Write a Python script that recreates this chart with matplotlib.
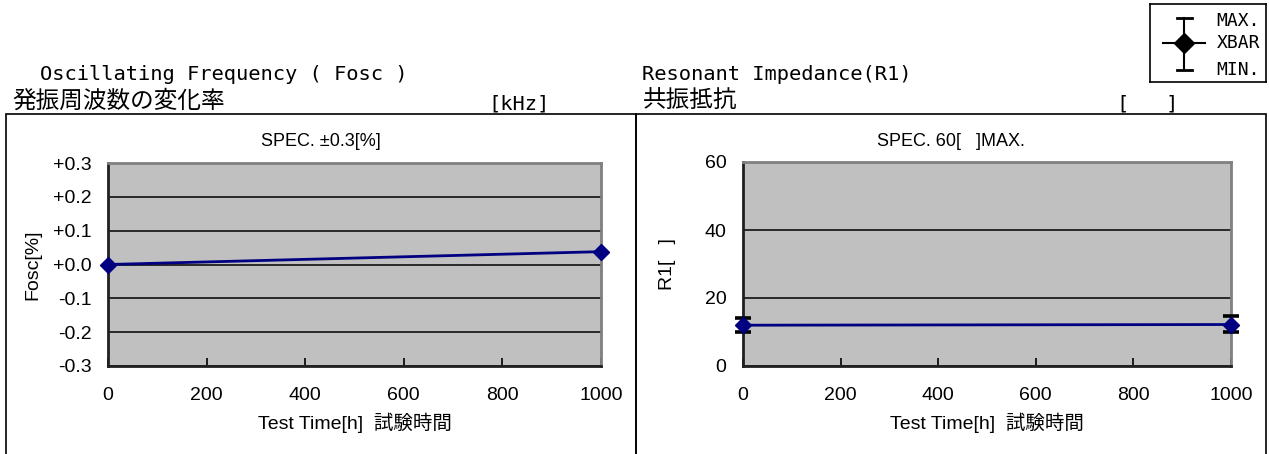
import matplotlib
matplotlib.use("Agg")
import matplotlib.pyplot as plt
from matplotlib.patches import Rectangle
from matplotlib.lines import Line2D

W, H = 1269, 454

# measurement data
hours = [0, 1000]
fosc_avg = [0.0, 0.038]
r1_avg = [12.0, 12.2]
r1_max = [14.2, 14.8]
r1_min = [10.0, 10.1]

# axis ticks
time_ticks = [0, 200, 400, 600, 800, 1000]
fosc_ticks = [-0.3, -0.2, -0.1, 0.0, 0.1, 0.2, 0.3]
fosc_ticklabels = ['-0.3', '-0.2', '-0.1', '+0.0', '+0.1', '+0.2', '+0.3']
r1_ticks = [0, 20, 40, 60]

NAVY = '#000080'
PLOT_BG = '#c0c0c0'
BORDER = '#808080'
SANS = ['Liberation Sans', 'Noto Sans CJK JP']
MONO = ['DejaVu Sans Mono', 'Noto Sans CJK JP']
CJK = ['Noto Sans CJK JP', 'DejaVu Sans']


def fx(x):
    return x / W


def fy(y):
    return 1 - y / H


fig = plt.figure(figsize=(W / 100, H / 100), dpi=100)
fig.patch.set_facecolor('white')

# outer frames of the two panels
for x0, x1 in ((6, 636), (636, 1266)):
    fig.add_artist(Rectangle((fx(x0), fy(470)), fx(x1) - fx(x0), fy(114) - fy(470),
                             transform=fig.transFigure, fill=False,
                             edgecolor='black', linewidth=1.2))


def make_axes(x0, x1, y0, y1):
    ax = fig.add_axes([fx(x0), fy(y1), fx(x1) - fx(x0), fy(y0) - fy(y1)])
    ax.set_facecolor(PLOT_BG)
    for s in ('top', 'right'):
        ax.spines[s].set_color(BORDER)
        ax.spines[s].set_linewidth(2)
    for s in ('left', 'bottom'):
        ax.spines[s].set_color('#202020')
        ax.spines[s].set_linewidth(2)
    ax.tick_params(axis='x', direction='in', length=6, width=1.2, pad=15,
                   labelsize=14)
    ax.tick_params(axis='y', direction='in', length=0, pad=12, labelsize=14)
    ax.grid(axis='y', color='black', linewidth=1.1)
    ax.set_axisbelow(True)
    ax.set_xlim(0, 1000)
    ax.set_xticks(time_ticks)
    return ax


# --- Oscillating frequency panel ---
ax1 = make_axes(108, 601, 163, 366)
ax1.set_ylim(-0.3, 0.3)
ax1.set_yticks(fosc_ticks)
ax1.set_yticklabels(fosc_ticklabels)
ax1.plot(hours, fosc_avg, color=NAVY, linewidth=2, marker='D', markersize=8,
         markerfacecolor=NAVY, markeredgecolor=NAVY, clip_on=False, zorder=5)
ax1.set_xlabel('Test Time[h]  試験時間', family=SANS, fontsize=14, labelpad=6)
ax1.set_ylabel('Fosc[%]', family=SANS, fontsize=14)
ax1.yaxis.set_label_coords(-(108 - 41) / 493, 0.5)
for lab in ax1.get_xticklabels() + ax1.get_yticklabels():
    lab.set_family(SANS)

# --- Resonant impedance panel ---
ax2 = make_axes(743, 1231, 162, 366)
ax2.set_ylim(0, 60)
ax2.set_yticks(r1_ticks)
yerr = [[a - lo for a, lo in zip(r1_avg, r1_min)],
        [hi - a for a, hi in zip(r1_avg, r1_max)]]
ax2.errorbar(hours, r1_avg, yerr=yerr, fmt='none', ecolor='black',
             elinewidth=1.5, capsize=5.5, capthick=2.6, clip_on=False, zorder=4)
ax2.plot(hours, r1_avg, color=NAVY, linewidth=2, marker='D', markersize=8,
         markerfacecolor=NAVY, markeredgecolor=NAVY, clip_on=False, zorder=5)
ax2.set_xlabel('Test Time[h]  試験時間', family=SANS, fontsize=14, labelpad=6)
ax2.set_ylabel('R1[   ]', family=SANS, fontsize=14)
ax2.yaxis.set_label_coords(-(743 - 676) / 488, 0.5)
for lab in ax2.get_xticklabels() + ax2.get_yticklabels():
    lab.set_family(SANS)

# spec captions above each plot
fig.text(fx(321), fy(141), 'SPEC. ±0.3[%]', family=SANS, fontsize=13,
         ha='center', va='center')
fig.text(fx(951), fy(141), 'SPEC. 60[   ]MAX.', family=SANS, fontsize=13,
         ha='center', va='center')

# headings
fig.text(fx(40), fy(80), 'Oscillating Frequency ( Fosc )', family=MONO,
         fontsize=14.7, ha='left', va='baseline')
fig.text(fx(12), fy(108), '発振周波数の変化率', family=CJK, fontsize=17,
         ha='left', va='baseline')
fig.text(fx(488), fy(109), '[kHz]', family=MONO, fontsize=14.7,
         ha='left', va='baseline')
fig.text(fx(642), fy(80), 'Resonant Impedance(R1)', family=MONO,
         fontsize=14.7, ha='left', va='baseline')
fig.text(fx(643), fy(108), '共振抵抗', family=CJK, fontsize=17,
         ha='left', va='baseline')
fig.text(fx(1117), fy(109), '[   ]', family=MONO, fontsize=14.7,
         ha='left', va='baseline')

# key box for the MAX / XBAR / MIN symbol
key = fig.add_axes([fx(1150), fy(82), fx(1266) - fx(1150), fy(4) - fy(82)])
key.set_xlim(0, 1)
key.set_ylim(0, 1)
key.set_xticks([])
key.set_yticks([])
for s in key.spines.values():
    s.set_color('black')
    s.set_linewidth(1.2)
kx, ky_top, ky_mid, ky_bot = 0.295, 0.82, 0.50, 0.16
key.add_line(Line2D([kx, kx], [ky_bot, ky_top], color='black', linewidth=1.5))
key.add_line(Line2D([kx - 0.065, kx + 0.065], [ky_top, ky_top], color='black', linewidth=2))
key.add_line(Line2D([kx - 0.065, kx + 0.065], [ky_bot, ky_bot], color='black', linewidth=2))
key.add_line(Line2D([kx - 0.18, kx + 0.18], [ky_mid, ky_mid], color='black', linewidth=1.5))
key.add_line(Line2D([kx], [ky_mid], marker='D', markersize=10, color='black'))
for label, yy in (('MAX.', 0.78), ('XBAR', 0.50), ('MIN.', 0.16)):
    key.text(0.95, yy, label, family=MONO, fontsize=13, ha='right', va='center')

fig.savefig('out.png', dpi=100)
